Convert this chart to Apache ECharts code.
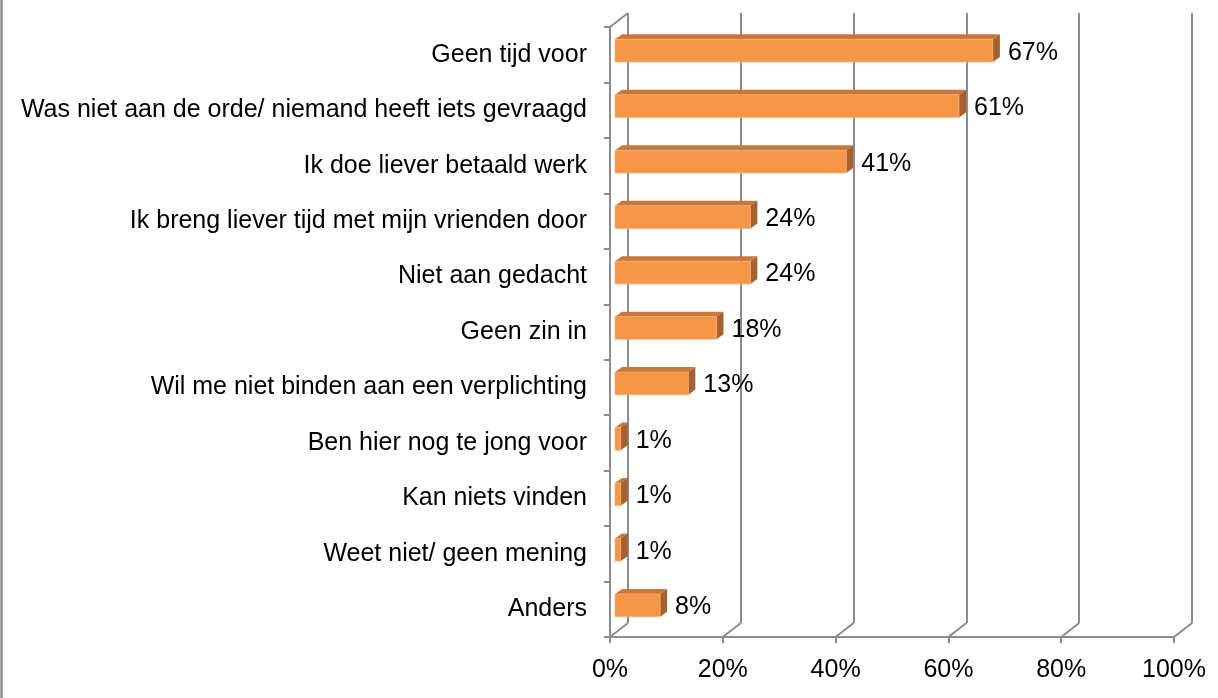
<!DOCTYPE html>
<html>
<head>
<meta charset="utf-8">
<script src="https://cdn.jsdelivr.net/npm/echarts@6/dist/echarts.min.js"></script>
<style>
  html, body { margin: 0; padding: 0; background: #fff; }
  #chart { width: 1218px; height: 698px; }
</style>
</head>
<body>
<div id="chart"></div>
<script>
// categories from top to bottom
var categories = [
  'Geen tijd voor',
  'Was niet aan de orde/ niemand heeft iets gevraagd',
  'Ik doe liever betaald werk',
  'Ik breng liever tijd met mijn vrienden door',
  'Niet aan gedacht',
  'Geen zin in',
  'Wil me niet binden aan een verplichting',
  'Ben hier nog te jong voor',
  'Kan niets vinden',
  'Weet niet/ geen mening',
  'Anders'
];
var percentages = [67, 61, 41, 24, 24, 18, 13, 1, 1, 1, 8];
var xTicks = [0, 20, 40, 60, 80, 100];

var FONT = '"Liberation Sans", Arial, sans-serif';
var GRID_GRAY = '#8c8c8c';
// depth of the 3d floor/wall
var DEPTH_X = 18, DEPTH_Y = -14;

var chart = echarts.init(document.getElementById('chart'));

// 3d bar: front face, top face, right side, value label
function renderBar(params, api) {
  var v = api.value(0);
  var start = api.coord([0, api.value(1)]);
  var end = api.coord([v, api.value(1)]);
  var h = api.size([0, 1])[1] * 0.41;
  var x0 = start[0] + 5, x1 = end[0] + 5;
  var yT = start[1] - 4 - h / 2, yB = yT + h;
  var dx = 7, dy = -5;
  return {
    type: 'group',
    children: [
      { type: 'polygon', shape: { points: [[x0, yT], [x1, yT], [x1 + dx, yT + dy], [x0 + dx, yT + dy]] },
        style: { fill: '#c6793b' } },
      { type: 'polygon', shape: { points: [[x1, yT], [x1 + dx, yT + dy], [x1 + dx, yB + dy], [x1, yB]] },
        style: { fill: '#a8612d' } },
      { type: 'rect', shape: { x: x0, y: yT, width: x1 - x0, height: h },
        style: { fill: '#f79646', stroke: '#f9b07a', lineWidth: 0.6 } },
      { type: 'text', style: { x: x1 + dx + 8, y: (yT + yB) / 2 + 2, text: v + '%',
        fill: '#000', font: '25px ' + FONT, verticalAlign: 'middle', align: 'left' } }
    ]
  };
}

// slanted floor edges linking front axis to back wall
function renderDiagonal(params, api) {
  var cs = params.coordSys;
  var v = api.value(0);
  var x = api.coord([v, 0])[0];
  var yb = cs.y + cs.height;
  var lineStyle = { stroke: GRID_GRAY, lineWidth: 2 };
  var children = [
    { type: 'line', shape: { x1: x, y1: yb, x2: x + DEPTH_X, y2: yb + DEPTH_Y }, style: lineStyle }
  ];
  if (v === 0) {
    children.push({ type: 'line', shape: { x1: x, y1: cs.y, x2: x + DEPTH_X, y2: cs.y + DEPTH_Y }, style: lineStyle });
  }
  return { type: 'group', children: children };
}

var option = {
  animation: false,
  backgroundColor: '#fff',
  textStyle: { fontFamily: FONT },
  graphic: [{
    type: 'line', shape: { x1: 1.5, y1: 0, x2: 1.5, y2: 698 },
    style: { stroke: GRID_GRAY, lineWidth: 2.5 }
  }],
  grid: [
    // front plane
    { left: 610, right: 44, top: 27, bottom: 61, containLabel: false, outerBoundsMode: 'none' },
    // back wall
    { left: 610 + DEPTH_X, right: 44 - DEPTH_X, top: 27 + DEPTH_Y, bottom: 61 - DEPTH_Y, containLabel: false, outerBoundsMode: 'none' }
  ],
  xAxis: [
    {
      gridIndex: 0, type: 'value', min: 0, max: 100, interval: 20,
      axisLine: { show: true, lineStyle: { color: GRID_GRAY, width: 2 } },
      axisTick: { show: true, length: 6, lineStyle: { color: GRID_GRAY, width: 2 } },
      axisLabel: { formatter: '{value}%', color: '#000', fontSize: 25, margin: 21, fontFamily: FONT },
      splitLine: { show: false }
    },
    {
      gridIndex: 1, type: 'value', min: 0, max: 100, interval: 20,
      axisLine: { show: false }, axisTick: { show: false }, axisLabel: { show: false },
      splitLine: { show: true, lineStyle: { color: GRID_GRAY, width: 2 } }
    }
  ],
  yAxis: [
    {
      gridIndex: 0, type: 'category', inverse: true, data: categories,
      axisLine: { show: true, lineStyle: { color: GRID_GRAY, width: 2 } },
      axisTick: { show: true, length: 6, lineStyle: { color: GRID_GRAY, width: 2 } },
      axisLabel: { color: '#000', fontSize: 25, margin: 23, fontFamily: FONT },
      splitLine: { show: false }
    },
    {
      gridIndex: 1, type: 'category', inverse: true, data: categories,
      axisLine: { show: false }, axisTick: { show: false }, axisLabel: { show: false },
      splitLine: { show: false }
    }
  ],
  series: [
    {
      type: 'custom', xAxisIndex: 0, yAxisIndex: 0,
      renderItem: renderDiagonal,
      data: xTicks.map(function (t) { return [t, 0]; }),
      z: 1, silent: true
    },
    {
      type: 'custom', xAxisIndex: 0, yAxisIndex: 0,
      renderItem: renderBar,
      data: percentages.map(function (v, i) { return [v, i]; }),
      z: 5
    }
  ]
};

chart.setOption(option);
</script>
</body>
</html>
